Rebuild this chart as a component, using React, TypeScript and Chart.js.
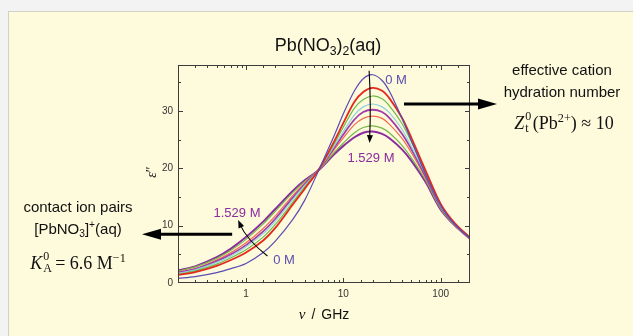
import React, { useEffect, useRef } from 'react';
import { Chart, registerables } from 'chart.js';

Chart.register(...registerables);

// ---- data ----
const FREQ_GHZ = [0.2, 0.3, 0.5, 0.7, 1, 1.5, 2, 3, 4, 5.6, 8, 10, 13, 16, 20, 25, 30, 40, 50, 70, 100, 140, 200];

const EPS_0M = [0.8, 1.1, 1.8, 2.5, 3.4, 5.3, 7.3, 11.0, 14.4, 19.7, 25.6, 29.5, 33.5, 35.6, 36.3, 35.3, 33.3, 28.7, 24.8, 18.9, 13.5, 10.2, 7.8];
const EPS_C1 = [1.4, 1.9, 3.0, 4.0, 5.3, 7.4, 9.6, 13.6, 16.4, 19.8, 24.6, 27.9, 31.6, 33.3, 34.0, 33.5, 32.1, 28.8, 25.3, 19.6, 13.8, 10.4, 7.9];
const EPS_C2 = [1.5, 2.1, 3.3, 4.4, 5.8, 8.0, 10.2, 14.0, 16.7, 19.8, 24.2, 27.2, 30.5, 32.0, 32.6, 32.1, 30.8, 27.8, 24.6, 19.2, 13.6, 10.3, 7.9];
const EPS_C3 = [1.7, 2.3, 3.6, 4.7, 6.3, 8.6, 10.8, 14.5, 17.0, 19.8, 23.8, 26.4, 29.3, 30.7, 31.2, 30.7, 29.6, 26.8, 23.8, 18.9, 13.4, 10.3, 7.8];
const EPS_C4 = [1.8, 2.4, 3.8, 5.0, 6.6, 9.0, 11.2, 14.8, 17.2, 19.8, 23.5, 25.9, 28.5, 29.8, 30.2, 29.8, 28.7, 26.0, 23.3, 18.6, 13.3, 10.2, 7.8];
const EPS_C5 = [1.9, 2.5, 4.0, 5.3, 7.0, 9.5, 11.7, 15.2, 17.4, 19.7, 23.2, 25.3, 27.6, 28.7, 29.1, 28.7, 27.6, 25.2, 22.7, 18.3, 13.2, 10.1, 7.8];
const EPS_C6 = [2.1, 2.8, 4.3, 5.7, 7.6, 10.3, 12.5, 15.7, 17.7, 19.7, 22.7, 24.4, 26.2, 27.1, 27.4, 27.0, 26.1, 24.0, 21.8, 17.9, 12.9, 10.0, 7.7];
const EPS_1529M = [2.2, 2.9, 4.5, 6.0, 8.0, 10.7, 12.9, 16.0, 17.9, 19.7, 22.4, 23.9, 25.4, 26.2, 26.4, 26.0, 25.2, 23.3, 21.3, 17.6, 12.8, 10.0, 7.7];

const SERIES_NAMES = ['0 M', 'c1', 'c2', 'c3', 'c4', 'c5', 'c6', '1.529 M'];
const SERIES_VALUES = [EPS_0M, EPS_C1, EPS_C2, EPS_C3, EPS_C4, EPS_C5, EPS_C6, EPS_1529M];
const SERIES_COLORS = ['#5a4cb2', '#e5281e', '#6cbb4a', '#8fd2dd', '#a23ca8', '#f26c50', '#79b747', '#8a2b9e'];
const SERIES_WIDTHS = [1.2, 1.8, 1.2, 1.2, 1.8, 1.2, 1.2, 2.0];

const X_MIN = 0.2;
const X_MAX = 200;
const Y_MIN = 0;
const Y_MAX = 38;
const X_TICK_LABELS = [1, 10, 100];
const Y_TICK_LABELS = [0, 10, 20, 30];

const SANS = '"Liberation Sans", Arial, Helvetica, sans-serif';
const SERIF = '"Liberation Serif", "Times New Roman", serif';

function isDecade(v: number) {
  const l = Math.log10(v);
  return Math.abs(l - Math.round(l)) < 1e-6;
}

function drawHead(ctx: CanvasRenderingContext2D, x: number, y: number, ang: number, len: number, half: number) {
  ctx.beginPath();
  ctx.moveTo(x, y);
  ctx.lineTo(x - len * Math.cos(ang) + half * Math.sin(ang), y - len * Math.sin(ang) - half * Math.cos(ang));
  ctx.lineTo(x - len * Math.cos(ang) - half * Math.sin(ang), y - len * Math.sin(ang) + half * Math.cos(ang));
  ctx.closePath();
  ctx.fill();
}

const framePlugin = {
  id: 'frameTicks',
  afterDatasetsDraw(chart: any) {
    const { ctx, chartArea: a, scales } = chart;
    const xs = scales.x;
    const ys = scales.y;
    ctx.save();
    ctx.strokeStyle = '#3c3c3c';
    ctx.lineWidth = 1;
    ctx.strokeRect(a.left + 0.5, a.top + 0.5, a.right - a.left - 1, a.bottom - a.top - 1);
    ctx.beginPath();
    xs.ticks.forEach((t: any) => {
      const v = t.value;
      if (v <= X_MIN * 1.0001 || v >= X_MAX * 0.9999) return;
      const len = isDecade(v) ? 5 : 3;
      const px = Math.round(xs.getPixelForValue(v)) + 0.5;
      ctx.moveTo(px, a.bottom);
      ctx.lineTo(px, a.bottom - len);
      ctx.moveTo(px, a.top);
      ctx.lineTo(px, a.top + len);
    });
    ys.ticks.forEach((t: any) => {
      const v = t.value;
      if (v <= Y_MIN || v >= Y_MAX) return;
      const len = v % 10 === 0 ? 5 : 3;
      const py = Math.round(ys.getPixelForValue(v)) + 0.5;
      ctx.moveTo(a.left, py);
      ctx.lineTo(a.left + len, py);
      ctx.moveTo(a.right, py);
      ctx.lineTo(a.right - len, py);
    });
    ctx.stroke();

    // annotation arrows
    ctx.fillStyle = '#000';
    ctx.strokeStyle = '#000';
    // big right arrow
    {
      const x0 = xs.getPixelForValue(42);
      const y0 = ys.getPixelForValue(31.2);
      const tip = a.right + 27;
      ctx.lineWidth = 3;
      ctx.beginPath();
      ctx.moveTo(x0, y0);
      ctx.lineTo(tip - 14, y0);
      ctx.stroke();
      drawHead(ctx, tip, y0, 0, 19, 5.5);
    }
    // big left arrow
    {
      const x0 = xs.getPixelForValue(0.72);
      const y0 = ys.getPixelForValue(8.5);
      const tip = a.left - 36;
      ctx.lineWidth = 3;
      ctx.beginPath();
      ctx.moveTo(x0, y0);
      ctx.lineTo(tip + 14, y0);
      ctx.stroke();
      drawHead(ctx, tip, y0, Math.PI, 19, 5.5);
    }
    // thin arrow through peaks
    {
      const p0 = [xs.getPixelForValue(18.4), ys.getPixelForValue(37.0)];
      const c = [xs.getPixelForValue(19.3), ys.getPixelForValue(30.8)];
      const p2 = [xs.getPixelForValue(18.6), ys.getPixelForValue(24.4)];
      ctx.lineWidth = 1.1;
      ctx.beginPath();
      ctx.moveTo(p0[0], p0[1]);
      ctx.quadraticCurveTo(c[0], c[1], p2[0], p2[1] - 4);
      ctx.stroke();
      drawHead(ctx, p2[0], p2[1], Math.atan2(p2[1] - c[1], p2[0] - c[0]), 8, 3);
    }
    // thin curved arrow at low frequency
    {
      const p0 = [xs.getPixelForValue(1.66), ys.getPixelForValue(4.7)];
      const c = [xs.getPixelForValue(1.02), ys.getPixelForValue(7.5)];
      const p2 = [xs.getPixelForValue(0.83), ys.getPixelForValue(11.0)];
      ctx.lineWidth = 1.1;
      ctx.beginPath();
      ctx.moveTo(p0[0], p0[1]);
      ctx.quadraticCurveTo(c[0], c[1], p2[0] + 1.5, p2[1] + 4);
      ctx.stroke();
      drawHead(ctx, p2[0], p2[1], Math.atan2(p2[1] - c[1], p2[0] - c[0]), 8, 3);
    }
    ctx.restore();
  },
};

function Txt(props: { x: number; y: number; size: number; color?: string; font?: string; rotate?: boolean; children: any }) {
  return (
    <div
      style={{
        position: 'absolute',
        left: props.x,
        top: props.y,
        transform: 'translate(-50%, -50%)' + (props.rotate ? ' rotate(-90deg)' : ''),
        whiteSpace: 'nowrap',
        lineHeight: 1,
        fontSize: props.size,
        fontFamily: props.font || SANS,
        color: props.color || '#111',
      }}
    >
      {props.children}
    </div>
  );
}

function SupSub(props: { sup: string; sub: string; size: number }) {
  const s = Math.round(props.size * 0.68);
  return (
    <span style={{ display: 'inline-block', position: 'relative', width: s * 0.62 + 1, height: props.size }}>
      <span style={{ position: 'absolute', left: 1, top: -props.size * 0.05, fontSize: s, lineHeight: 1, fontStyle: 'normal' }}>{props.sup}</span>
      <span style={{ position: 'absolute', left: 1, top: props.size * 0.62, fontSize: s, lineHeight: 1, fontStyle: 'normal' }}>{props.sub}</span>
    </span>
  );
}

const subStyle: any = { fontSize: '0.68em', verticalAlign: '-0.3em', lineHeight: 0 };
const supStyle: any = { fontSize: '0.68em', verticalAlign: '0.5em', lineHeight: 0 };

export default function App() {
  const ref = useRef<HTMLCanvasElement | null>(null);

  useEffect(() => {
    if (!ref.current) return;
    const chart = new Chart(ref.current, {
      type: 'line',
      data: {
        labels: FREQ_GHZ,
        datasets: SERIES_VALUES.map((vals, i) => ({
          label: SERIES_NAMES[i],
          data: FREQ_GHZ.map((f, j) => ({ x: f, y: vals[j] })),
          borderColor: SERIES_COLORS[i],
          backgroundColor: SERIES_COLORS[i],
          borderWidth: SERIES_WIDTHS[i],
          pointRadius: 0,
          fill: false,
          tension: 0.3,
        })),
      },
      options: {
        responsive: false,
        animation: false,
        devicePixelRatio: 1,
        layout: { padding: { left: 0, top: 65, right: 163, bottom: 0 } },
        plugins: { legend: { display: false }, title: { display: false }, tooltip: { enabled: false } },
        scales: {
          x: {
            type: 'logarithmic',
            min: X_MIN,
            max: X_MAX,
            grid: { display: false, drawTicks: false },
            border: { display: false },
            afterFit: (s: any) => { s.height = 53; },
            ticks: {
              autoSkip: false,
              maxRotation: 0,
              padding: 5,
              color: '#333',
              font: { size: 10, family: SANS },
              callback: (v: any) => {
                const n = Number(v);
                return X_TICK_LABELS.some((t) => Math.abs(t - n) < 1e-6) ? String(Math.round(n)) : '';
              },
            },
          },
          y: {
            type: 'linear',
            min: Y_MIN,
            max: Y_MAX,
            grid: { display: false, drawTicks: false },
            border: { display: false },
            afterFit: (s: any) => { s.width = 178; },
            ticks: {
              stepSize: 5,
              padding: 5,
              color: '#333',
              font: { size: 10, family: SANS },
              callback: (v: any) => (Y_TICK_LABELS.includes(Number(v)) ? String(v) : ''),
            },
          },
        },
      },
      plugins: [framePlugin],
    } as any);
    return () => chart.destroy();
  }, []);

  return (
    <div style={{ position: 'fixed', left: 0, top: 0, width: 633, height: 336, background: '#f3f3f3', overflow: 'hidden' }}>
      <div style={{ position: 'absolute', left: 8, top: 11, width: 660, height: 360, background: '#fefadc', border: '1px solid #d2d1c6' }} />
      <canvas ref={ref} width={633} height={336} style={{ position: 'absolute', left: 0, top: 0, width: 633, height: 336 }} />

      <Txt x={328} y={45} size={18}>
        Pb(NO<span style={subStyle}>3</span>)<span style={subStyle}>2</span>(aq)
      </Txt>

      <Txt x={562} y={69} size={15}>effective cation</Txt>
      <Txt x={562} y={91} size={15}>hydration number</Txt>
      <Txt x={564} y={121} size={18} font={SERIF}>
        <i>Z</i><SupSub sup="0" sub="t" size={18} />(Pb<span style={supStyle}>2+</span>) ≈ 10
      </Txt>

      <Txt x={78} y={206} size={15}>contact ion pairs</Txt>
      <Txt x={78} y={228} size={15}>
        [PbNO<span style={subStyle}>3</span>]<span style={supStyle}>+</span>(aq)
      </Txt>
      <Txt x={78} y={261} size={18} font={SERIF}>
        <i>K</i><SupSub sup="0" sub="A" size={18} /> = 6.6 M<span style={supStyle}>−1</span>
      </Txt>

      <Txt x={324} y={314} size={14}>
        <span style={{ fontFamily: SERIF, fontStyle: 'italic', fontSize: 15 }}>ν</span>
        <span style={{ margin: '0 6px' }}>/</span>GHz
      </Txt>
      <Txt x={152} y={172} size={14} font={SERIF} rotate>
        <i>ε</i>″
      </Txt>

      <Txt x={396} y={79} size={13} color="#5a4cb2">0 M</Txt>
      <Txt x={371} y={157} size={13} color="#8a2b9e">1.529 M</Txt>
      <Txt x={237} y={212} size={13} color="#8a2b9e">1.529 M</Txt>
      <Txt x={284} y={259} size={13} color="#5a4cb2">0 M</Txt>
    </div>
  );
}
